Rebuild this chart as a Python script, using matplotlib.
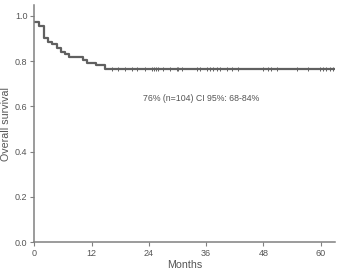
import matplotlib
matplotlib.use("Agg")
import matplotlib.pyplot as plt

# Kaplan-Meier steps (months, survival after step)
step_times = [0, 0.9, 2.1, 2.8, 3.6, 4.7, 5.5, 6.4, 7.2, 10.1, 11.1, 12.9, 14.9, 63.0]
step_surv = [0.971, 0.955, 0.900, 0.885, 0.876, 0.857, 0.838, 0.829, 0.818, 0.806, 0.793, 0.783, 0.766, 0.766]

# censored observations on the plateau (months)
censor_times = [16.2, 17.6, 19.0, 20.4, 21.5, 23.2, 24.6, 25.1, 25.5, 26.0, 27.0, 28.4, 29.8,
                30.2, 30.9, 34.0, 34.7, 36.1, 36.8, 37.5, 38.2, 38.9, 40.4, 41.4, 42.7,
                48.0, 49.0, 49.7, 50.8, 55.0, 57.4, 59.9, 60.5, 61.2, 61.9, 62.7]
censor_surv = [0.766] * len(censor_times)

x_ticks = [0, 12, 24, 36, 48, 60]
y_ticks = [0.0, 0.2, 0.4, 0.6, 0.8, 1.0]
annotation = "76% (n=104) CI 95%: 68-84%"

plt.rcParams['font.family'] = ['Liberation Sans', 'DejaVu Sans']
fig = plt.figure(figsize=(3.4, 2.73), dpi=100)
ax = fig.add_axes([0.101, 0.1125, 0.884, 0.869])

line_col = '#606060'
ax.step(step_times, step_surv, where='post', color=line_col, lw=1.6)
ax.plot(censor_times, censor_surv, linestyle='none', marker='|', markersize=3.5,
        markeredgewidth=0.7, color=line_col)

ax.set_xlim(0, 63.0)
ax.set_ylim(0, 1.047)
ax.set_xticks(x_ticks)
ax.set_yticks(y_ticks)
ax.set_yticklabels([f"{v:.1f}" for v in y_ticks])

for s in ['top', 'right']:
    ax.spines[s].set_visible(False)
for s in ['left', 'bottom']:
    ax.spines[s].set_color('#808080')
    ax.spines[s].set_linewidth(1.1)
ax.tick_params(direction='out', length=3, width=0.8, color='#808080',
               labelsize=6.5, labelcolor='#555555', pad=2)

ax.set_xlabel('Months', fontsize=7.7, color='#555555', labelpad=1)
ax.set_ylabel('Overall survival', fontsize=7.7, color='#555555', labelpad=3)

ax.text(34.9, 0.635, annotation, fontsize=6.3, color='#555555', ha='center', va='center')

fig.savefig('out.png', dpi=100)
